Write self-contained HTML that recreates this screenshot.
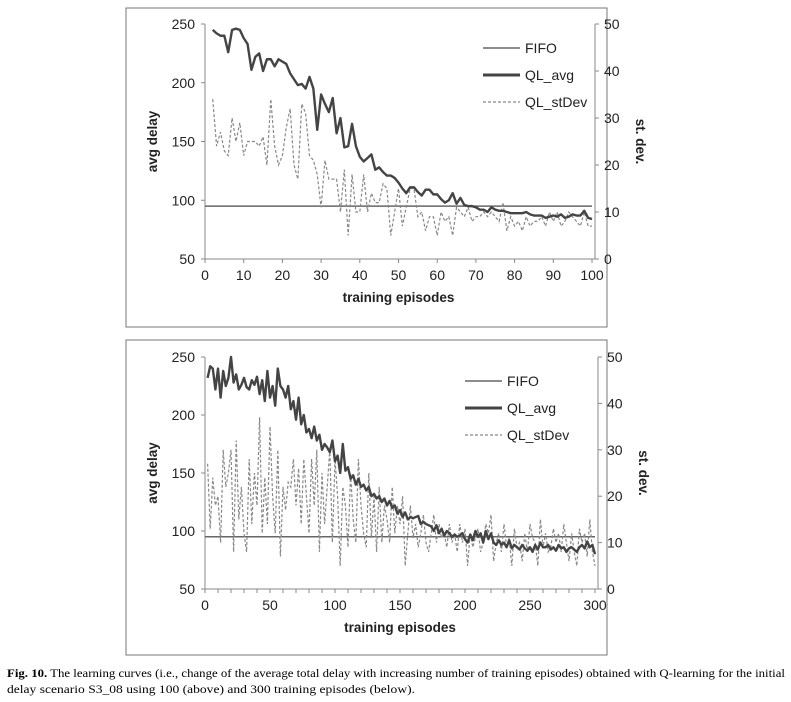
<!DOCTYPE html>
<html><head><meta charset="utf-8"><style>
html,body{margin:0;padding:0;background:#fff;}
svg{display:block;font-family:"Liberation Sans",sans-serif;}
</style></head><body>
<svg id="svg" width="791" height="702" viewBox="0 0 791 702">
<rect x="126" y="8" width="481" height="319" fill="none" stroke="#777" stroke-width="1"/>
<rect x="126" y="340" width="481" height="315" fill="none" stroke="#777" stroke-width="1"/>
<g id="top"></g>
<g id="bot"></g>
<text x="7" y="677" font-family="Liberation Serif, serif" font-size="12" textLength="778" lengthAdjust="spacingAndGlyphs"><tspan font-weight="bold">Fig. 10.</tspan> The learning curves (i.e., change of the average total delay with increasing number of training episodes) obtained with Q-learning for the initial</text>
<text x="7" y="693" font-family="Liberation Serif, serif" font-size="12" textLength="408" lengthAdjust="spacingAndGlyphs">delay scenario S3_08 using 100 (above) and 300 training episodes (below).</text>
</svg>
<script>
const topAvg=[245,242,240,240,226,245,246,245,238,233,211,222,225,210,220,220,214,220,218,216,208,203,198,199,195,205,195,160,190,182,175,187,157,170,145,146,165,146,137,133,136,139,126,128,124,121,121,119,115,110,106,111,111,107,104,109,109,105,105,101,98,100,106,97,102,96,95,95,94,92,92,90,94,92,91,91,90,89,89,89,89,90,88,87,87,87,85,86,87,86,88,85,86,88,87,87,91,85,84];
const topStd=[34,24,27,23,22,30,25,29,22,25,25,25,24,26,20,34,24,20,22,28,32,20,17,33,31,22,21,18,11,21,17,17,17,10,19,5,18,10,10,18,10,14,12,12,16,15,5,10,15,7,11,15,15,9,10,6,9,9,5,10,8,9,5,11,10,9,11,8,9,9,10,9,10,9,8,12,6,9,7,8,6,9,7,8,8,9,7,10,8,10,7,8,10,9,8,7,10,7,7];
const topFifo=95;
const botAvg=[232,242,240,222,240,215,238,225,232,250,228,235,222,226,232,224,222,230,226,233,218,230,212,238,215,225,208,240,225,222,215,225,205,212,196,215,192,200,185,188,180,190,178,183,170,175,172,168,178,160,165,150,175,152,155,145,148,140,145,138,140,135,138,130,132,128,130,125,128,122,126,120,122,115,118,112,116,110,112,111,112,113,106,108,106,105,104,100,105,98,102,96,100,98,95,97,95,96,98,93,90,97,92,100,95,98,90,100,93,98,90,88,92,88,90,86,92,85,88,86,84,88,85,83,86,82,88,84,90,86,86,88,84,86,83,88,85,86,82,85,86,84,82,86,88,85,91,86,88,80];
const botStd=[27,13,24,18,20,10,30,22,25,30,8,32,15,22,12,8,28,14,25,18,37,12,24,14,35,20,12,30,7,22,17,23,22,28,18,26,14,28,20,12,28,18,30,8,25,14,22,30,10,28,20,5,22,18,9,25,15,10,28,18,12,9,25,11,20,8,22,10,18,15,10,22,12,18,14,20,5,12,18,11,14,9,12,16,10,8,12,16,10,14,11,12,9,14,10,12,8,14,10,13,5,12,9,11,13,8,10,14,12,16,6,10,12,8,14,9,11,5,13,9,10,6,12,8,14,11,10,5,15,9,12,8,9,13,10,12,8,14,10,6,12,8,5,13,10,12,7,15,8,5];
const botFifo=95;
const leftTicks=[50,100,150,200,250];
const rightTicks=[0,10,20,30,40,50];
const topXLabels=[0,10,20,30,40,50,60,70,80,90,100];
const botXLabels=[0,50,100,150,200,250,300];
const NS='http://www.w3.org/2000/svg';
function mk(p,tag,a,txt){const e=document.createElementNS(NS,tag);for(const k in a)e.setAttribute(k,a[k]);if(txt!==undefined)e.textContent=txt;p.appendChild(e);return e;}
function chart(g,o){
 const X=v=>o.x0+(v/o.xmax)*(o.x1-o.x0);
 const YL=v=>o.yb+(v-50)/200*(o.yt-o.yb);
 const YR=v=>o.yb+v/50*(o.yt-o.yb);
 let e;
 e=mk(g,'line',{x1:o.x0,y1:o.yt,x2:o.x0,y2:o.yb,stroke:'#888'});
 
 
 e=mk(g,'line',{x1:o.x1+3,y1:o.yt,x2:o.x1+3,y2:o.yb,stroke:'#888'});
 
 
 e=mk(g,'line',{x1:o.x0,y1:o.yb,x2:o.x1+3,y2:o.yb,stroke:'#888'});
 
 
 leftTicks.forEach(v=>{mk(g,'line',{x1:o.x0-4,y1:YL(v),x2:o.x0,y2:YL(v),stroke:'#888'});
  e=mk(g,'text',{x:o.x0-10,y:YL(v)+5,'text-anchor':'end','font-size':14,fill:'#222'},v);
  
  });
 rightTicks.forEach(v=>{mk(g,'line',{x1:o.x1+3,y1:YR(v),x2:o.x1+7,y2:YR(v),stroke:'#888'});
  e=mk(g,'text',{x:o.x1+12,y:YR(v)+5,'font-size':14,fill:'#222'},v);
  
  });
 for(let t=0;t<=o.xmax;t+=o.tickStep)mk(g,'line',{x1:X(t),y1:o.yb,x2:X(t),y2:o.yb+4,stroke:'#888'});
 o.labels.forEach(v=>{e=mk(g,'text',{x:X(v),y:o.yb+21,'text-anchor':'middle','font-size':14,fill:'#222'},v);
  
  });
 e=mk(g,'text',{x:(o.x0+o.x1)/2,y:o.yb+43,'text-anchor':'middle','font-size':13.5,'font-weight':'bold',fill:'#222'},'training episodes');
 
 
 const cy=(o.yt+o.yb)/2;
 e=mk(g,'text',{x:0,y:0,transform:`translate(${o.x0-48},${cy}) rotate(-90)`,'text-anchor':'middle','font-size':13.5,'font-weight':'bold',fill:'#222'},'avg delay');
 
 
 e=mk(g,'text',{x:0,y:0,transform:`translate(${o.x1+44},${cy}) rotate(90)`,'text-anchor':'middle','font-size':13.5,'font-weight':'bold',fill:'#222'},'st. dev.');
 
 
 e=mk(g,'line',{x1:o.x0,y1:YL(o.fifo),x2:o.x1,y2:YL(o.fifo),stroke:'#666','stroke-width':1.5});
 
 
 const ep=i=>o.start+i*o.step;
 e=mk(g,'polyline',{points:o.std.map((v,i)=>X(ep(i))+','+YR(v)).join(' '),fill:'none',stroke:'#888','stroke-width':1.2,'stroke-dasharray':'3,2'});
 
 
 e=mk(g,'polyline',{points:o.avg.map((v,i)=>X(ep(i))+','+YL(v)).join(' '),fill:'none',stroke:'#444','stroke-width':2.4,'stroke-linejoin':'round'});
 
 
 const L=o.leg;
 [['FIFO',1.5,'#666',null],['QL_avg',3,'#444',null],['QL_stDev',1.2,'#888','3,2']].forEach((d,i)=>{
  const y=L.y+i*L.dy;
  const a={x1:L.x,y1:y,x2:L.x+37,y2:y,stroke:d[2],'stroke-width':d[1]};if(d[3])a['stroke-dasharray']=d[3];
  mk(g,'line',a);
  e=mk(g,'text',{x:L.x+42,y:y+5,'font-size':14,fill:'#222'},d[0]);
  
  
 });
}
chart(document.getElementById('top'),{x0:205,x1:592,yt:24,yb:259,xmax:100,tickStep:10,labels:topXLabels,avg:topAvg,std:topStd,fifo:topFifo,start:2,step:1,leg:{x:483,y:48,dy:27}});
chart(document.getElementById('bot'),{x0:205,x1:595,yt:357,yb:589,xmax:300,tickStep:10,labels:botXLabels,avg:botAvg,std:botStd,fifo:botFifo,start:2,step:2,leg:{x:465,y:381,dy:27}});
</script>
</body></html>
